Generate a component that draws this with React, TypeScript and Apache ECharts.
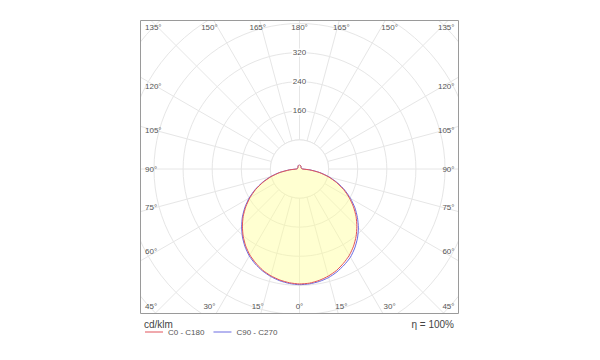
import React, { useEffect, useRef } from "react";
import * as echarts from "echarts";

// Gamma angles (degrees) at which intensities are read
const gammas = [0, 5, 10, 15, 20, 25, 30, 35, 40, 45, 50, 55, 60, 65, 70, 75, 80, 85, 90,
  95, 100, 105, 110, 115, 120, 125, 130, 135, 140, 145, 150, 155, 160, 165, 170, 175, 180];

// Luminous intensity, cd/klm
const c0 = [316, 315, 311, 305, 297, 286, 274, 259, 242, 223, 203, 181, 158, 134, 108, 82, 55, 28, 8,
  6, 6, 6, 6, 6, 6, 6, 6, 6, 6, 7, 8, 9, 10, 10, 11, 11, 11];
const c180 = [315, 314, 310, 304, 296, 285, 273, 258, 241, 222, 202, 180, 157, 133, 107, 81, 54, 27, 8,
  6, 6, 6, 6, 6, 6, 6, 6, 6, 6, 7, 8, 9, 10, 10, 11, 11, 11];
const c90 = [318, 317, 314, 309, 301, 291, 280, 265, 248, 229, 208, 186, 162, 137, 111, 84, 57, 29, 9,
  6, 6, 6, 6, 6, 6, 6, 6, 6, 6, 7, 8, 9, 10, 10, 11, 11, 11];
const c270 = [317, 316, 312, 306, 298, 288, 276, 261, 244, 225, 205, 183, 160, 135, 109, 83, 56, 28, 8,
  6, 6, 6, 6, 6, 6, 6, 6, 6, 6, 7, 8, 9, 10, 10, 11, 11, 11];

// Labels
const angleLabels = [0, 15, 30, 45, 60, 75, 90, 105, 120, 135, 150, 165, 180];
const radiusLabels = [160, 240, 320];
const radiusMax = 640;
const radiusStep = 80;
const seriesNames = ["C0 - C180", "C90 - C270"];
const unitText = "cd/klm";
const etaText = "η = 100%";

// Layout
const CX = 299.5;
const CY = 169;
const PX_PER_STEP = 29.1;
const BOX = { l: 140.5, t: 20.5, r: 458.5, b: 313.5 };
const FONT = "'Liberation Sans', Arial, sans-serif";

function buildSeries(right: number[], left: number[]) {
  const pts: [number, number][] = [];
  for (let i = gammas.length - 1; i >= 0; i--) pts.push([right[i], 180 - gammas[i]]);
  for (let i = 1; i < gammas.length; i++) pts.push([left[i], 180 + gammas[i]]);
  return pts;
}

function angleLabelGraphics() {
  const out: any[] = [];
  const style = { fill: "#555", fontSize: 8, fontFamily: FONT };
  const dSide = 143;
  const dTB = 156;
  const yTop = 27;
  const yBot = 306.5;
  for (const g of angleLabels) {
    const rad = (g * Math.PI) / 180;
    const s = Math.sin(rad);
    const c = Math.cos(rad);
    for (const side of [-1, 1]) {
      if (side === -1 && (g === 0 || g === 180)) continue;
      const text = g + "°";
      if (g >= 45 && g <= 135) {
        let y = CY + (dSide * c) / s;
        y = Math.max(yTop, Math.min(yBot, y));
        out.push({
          type: "text", z: 12,
          x: side < 0 ? 145 : 454.5, y,
          style: { ...style, text, align: side < 0 ? "left" : "right", verticalAlign: "middle" },
        });
      } else {
        const x = CX + side * (dTB * s) / Math.abs(c);
        out.push({
          type: "text", z: 12,
          x, y: c < 0 ? yTop : yBot,
          style: { ...style, text, align: "center", verticalAlign: "middle" },
        });
      }
    }
  }
  return out;
}

export default function App() {
  const ref = useRef<HTMLDivElement>(null);
  useEffect(() => {
    if (!ref.current) return;
    const chart = echarts.init(ref.current, null, { renderer: "svg" });
    const R = (radiusMax / radiusStep) * PX_PER_STEP;
    const innerR = PX_PER_STEP;
    const gridColor = "#e6e6e6";
    const cover = { fill: "#fff" };
    chart.setOption({
      animation: false,
      backgroundColor: "#fff",
      polar: { center: [CX, CY], radius: R },
      angleAxis: {
        type: "value", min: 0, max: 360, interval: 15, startAngle: 90, clockwise: true,
        axisLine: { show: false }, axisTick: { show: false }, axisLabel: { show: false },
        splitLine: { show: true, lineStyle: { color: gridColor, width: 1 } },
      },
      radiusAxis: {
        type: "value", min: 0, max: radiusMax, interval: radiusStep,
        axisLine: { show: false }, axisTick: { show: false },
        axisLabel: {
          show: true, margin: 0, align: "center", verticalAlign: "middle",
          fontSize: 8, color: "#555", fontFamily: FONT,
          backgroundColor: "#fff", padding: [0, 1],
          formatter: (v: number) => (radiusLabels.includes(v) ? String(v) : ""),
        },
        splitLine: { show: true, lineStyle: { color: gridColor, width: 1 } },
      },
      legend: {
        show: true, left: 145, top: 328, padding: 0, z: 20,
        icon: "rect", itemWidth: 18, itemHeight: 1, itemGap: 9,
        textStyle: { fontSize: 8, color: "#555", fontFamily: FONT },
        data: seriesNames,
      },
      series: [
        {
          name: seriesNames[0], type: "line", coordinateSystem: "polar",
          data: buildSeries(c0, c180), showSymbol: false, symbol: "none", smooth: 0.2,
          lineStyle: { color: "#e0525a", width: 1 }, itemStyle: { color: "#e0525a" },
          areaStyle: { color: "rgba(255,255,150,0.62)" }, z: 3,
        },
        {
          name: seriesNames[1], type: "line", coordinateSystem: "polar",
          data: buildSeries(c90, c270), showSymbol: false, symbol: "none", smooth: 0.2,
          lineStyle: { color: "#6b6be0", width: 1 }, itemStyle: { color: "#6b6be0" }, z: 2,
        },
      ],
      graphic: [
        { type: "circle", z: 1, silent: true, shape: { cx: CX, cy: CY, r: innerR }, style: { fill: "#fff", stroke: gridColor, lineWidth: 1 } },
        { type: "rect", z: 10, silent: true, shape: { x: 0, y: 0, width: 600, height: BOX.t }, style: cover },
        { type: "rect", z: 10, silent: true, shape: { x: 0, y: BOX.b, width: 600, height: 360 - BOX.b }, style: cover },
        { type: "rect", z: 10, silent: true, shape: { x: 0, y: 0, width: BOX.l, height: 360 }, style: cover },
        { type: "rect", z: 10, silent: true, shape: { x: BOX.r, y: 0, width: 600 - BOX.r, height: 360 }, style: cover },
        { type: "rect", z: 11, silent: true, shape: { x: BOX.l, y: BOX.t, width: BOX.r - BOX.l, height: BOX.b - BOX.t }, style: { fill: "none", stroke: "#9a9a9a", lineWidth: 1 } },
        { type: "text", z: 12, x: 144, y: 324.5, style: { text: unitText, fill: "#444", fontSize: 10, fontFamily: FONT, align: "left", verticalAlign: "middle" } },
        { type: "text", z: 12, x: 454, y: 324.5, style: { text: etaText, fill: "#444", fontSize: 10, fontFamily: FONT, align: "right", verticalAlign: "middle" } },
        ...angleLabelGraphics(),
      ],
    });
    return () => chart.dispose();
  }, []);
  return <div ref={ref} style={{ position: "absolute", left: 0, top: 0, width: 600, height: 360 }} />;
}
